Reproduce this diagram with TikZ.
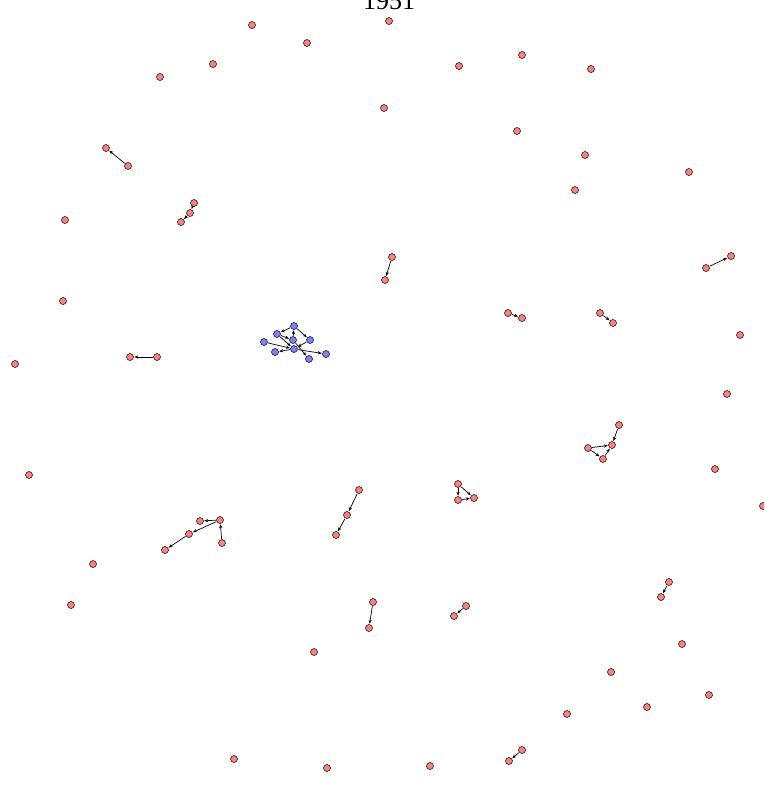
\documentclass[tikz,border=0pt]{standalone}
\usepackage{fontspec}
\setmainfont{Liberation Serif}
\usetikzlibrary{arrows.meta}
\definecolor{nodered}{HTML}{FF8080}
\definecolor{nodeblue}{HTML}{8080FF}
\tikzset{
  rdot/.style={circle,draw=black,line width=0.5pt,fill=nodered,minimum size=7pt,inner sep=0pt},
  bdot/.style={circle,draw=black,line width=0.5pt,fill=nodeblue,minimum size=7pt,inner sep=0pt},
  link/.style={line width=0.7pt,-{Stealth[length=4pt,width=3.2pt]},shorten >=0.5pt,shorten <=0.5pt},
}
\begin{document}
\begin{tikzpicture}[x=1pt,y=-1pt]
\useasboundingbox (0,0) rectangle (764,788);
\clip (0,0) rectangle (764,788);
\node[font=\fontsize{26}{26}\selectfont,anchor=base] (title) at (389,9) {1951};
% red nodes
\foreach \n/\x/\y in {1/389/21,2/252/25,3/307/43,4/522/55,5/213/64,6/459/66,7/591/69,8/160/77,9/384/108,10/517/131,
 11/106/148,12/128/166,13/585/155,14/689/172,15/575/190,16/194/203,17/190/213,18/181/222,19/65/220,20/392/257,
 21/385/280,22/731/256,23/706/268,24/63/301,25/508/313,26/522/318,27/600/313,28/613/323,29/740/335,30/15/364,
 31/130/357,32/157/357,33/727/394,34/619/425,35/588/448,36/612/445,37/603/459,38/715/469,39/29/475,40/359/490,
 41/347/515,42/336/535,43/458/484,44/458/500,45/474/498,46/763/506,47/200/521,48/220/520,49/189/534,50/222/543,
 51/165/550,52/93/564,53/71/605,54/669/582,55/661/597,56/373/602,57/369/628,58/466/606,59/454/616,60/314/652,
 61/682/644,62/611/672,63/647/707,64/709/695,65/567/714,66/234/759,67/327/768,68/430/766,69/522/750,70/509/761}
  {\node[rdot] (r\n) at (\x,\y) {};}
% blue nodes
\foreach \n/\x/\y in {1/294/326,2/277/334,3/264/342,4/293/340,5/310/340,6/275/352,7/294/349,8/309/359,9/326/354}
  {\node[bdot] (b\n) at (\x,\y) {};}
% red edges
\draw[link] (r12) -- (r11);
\draw[link] (r16) -- (r17);
\draw[link] (r17) -- (r18);
\draw[link] (r20) -- (r21);
\draw[link] (r23) -- (r22);
\draw[link] (r25) -- (r26);
\draw[link] (r27) -- (r28);
\draw[link] (r32) -- (r31);
\draw[link] (r34) -- (r36);
\draw[link] (r35) -- (r36);
\draw[link] (r35) -- (r37);
\draw[link] (r37) -- (r36);
\draw[link] (r40) -- (r41);
\draw[link] (r41) -- (r42);
\draw[link] (r43) -- (r45);
\draw[link] (r43) -- (r44);
\draw[link] (r44) -- (r45);
\draw[link] (r48) -- (r47);
\draw[link] (r48) -- (r49);
\draw[link] (r49) -- (r51);
\draw[link] (r50) -- (r48);
\draw[link] (r54) -- (r55);
\draw[link] (r56) -- (r57);
\draw[link] (r58) -- (r59);
\draw[link] (r69) -- (r70);
% blue edges
\draw[link] (b1) -- (b2);
\draw[link] (b1) -- (b5);
\draw[link] (b2) -- (b4);
\draw[link] (b3) -- (b7);
\draw[link] (b7) -- (b6);
\draw[link] (b4) -- (b1);
\draw[link] (b7) -- (b9);
\draw[link] (b5) -- (b7);
\draw[link] (b4) -- (b8);
\draw[link] (b2) -- (b7);
\end{tikzpicture}
\end{document}
